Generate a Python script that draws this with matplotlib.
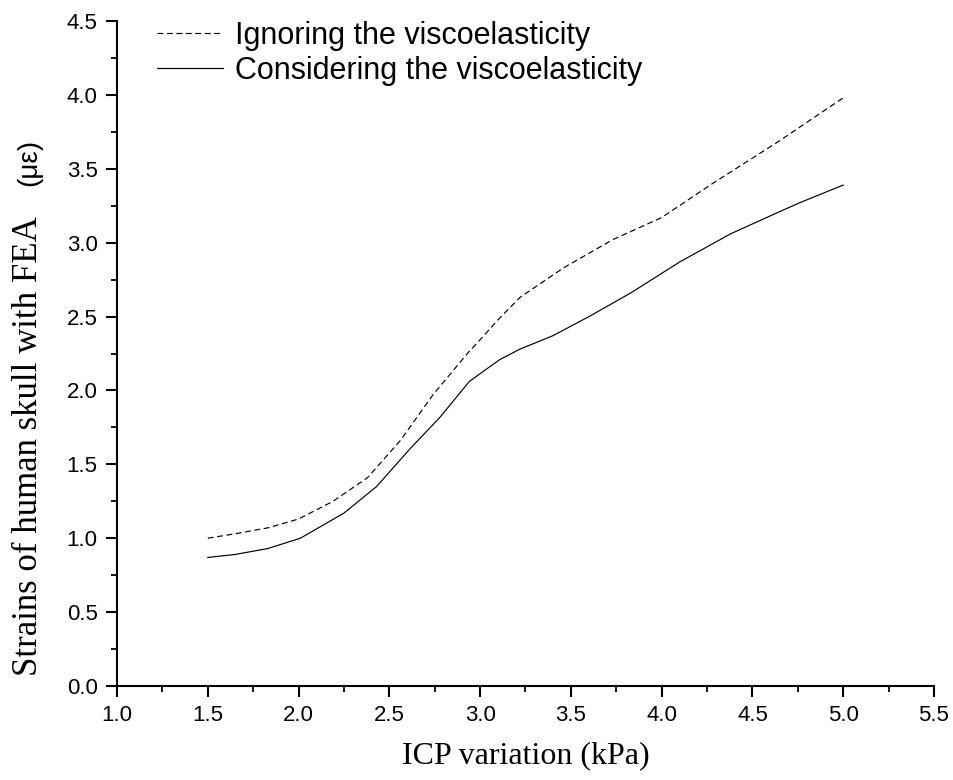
import matplotlib
matplotlib.use("Agg")
import matplotlib.pyplot as plt
from matplotlib.ticker import MultipleLocator, FormatStrFormatter

icp_ignoring = [1.5, 1.65, 1.83, 2.0, 2.19, 2.38, 2.56, 2.74, 2.93, 3.02, 3.1, 3.22, 3.46, 3.73, 4.0, 4.28, 4.65, 5.0]
ignoring = [1.00, 1.03, 1.07, 1.13, 1.25, 1.41, 1.66, 1.97, 2.25, 2.37, 2.48, 2.63, 2.83, 3.02, 3.17, 3.40, 3.69, 3.98]
icp_considering = [1.5, 1.65, 1.83, 2.01, 2.25, 2.43, 2.61, 2.78, 2.94, 3.03, 3.11, 3.22, 3.40, 3.60, 3.83, 4.10, 4.38, 4.65, 4.76, 5.0]
considering = [0.87, 0.89, 0.93, 1.00, 1.17, 1.35, 1.60, 1.82, 2.06, 2.14, 2.21, 2.28, 2.37, 2.50, 2.66, 2.87, 3.06, 3.21, 3.27, 3.39]
labels = ["Ignoring the viscoelasticity", "Considering the viscoelasticity"]

sans = ["Liberation Sans", "DejaVu Sans"]
serif = ["Liberation Serif", "DejaVu Serif"]

fig = plt.figure(figsize=(9.54, 7.8), dpi=100)
ax = fig.add_axes([117/954, 1-686/780, 817/954, 665/780])

ax.plot(icp_ignoring, ignoring, color="black", lw=0.85, linestyle=(0, (5, 3)), label=labels[0])
ax.plot(icp_considering, considering, color="black", lw=0.85, linestyle="-", label=labels[1])

ax.set_xlim(1.0, 5.5)
ax.set_ylim(0.0, 4.5)
ax.xaxis.set_major_locator(MultipleLocator(0.5))
ax.xaxis.set_minor_locator(MultipleLocator(0.25))
ax.yaxis.set_major_locator(MultipleLocator(0.5))
ax.yaxis.set_minor_locator(MultipleLocator(0.25))
ax.xaxis.set_major_formatter(FormatStrFormatter("%.1f"))
ax.yaxis.set_major_formatter(FormatStrFormatter("%.1f"))

for s in ["top", "right"]:
    ax.spines[s].set_visible(False)
for s in ["left", "bottom"]:
    ax.spines[s].set_linewidth(1.5)

ax.tick_params(which="major", direction="out", length=8, width=1.5, pad=6,
               labelsize=16, labelfontfamily="Liberation Sans")
ax.tick_params(which="minor", direction="out", length=4, width=1.3)

ax.set_xlabel("ICP variation (kPa)", fontfamily=serif, fontsize=23)
ax.xaxis.set_label_coords(0.5, -0.083)
ax.set_ylabel("Strains of human skull with FEA", fontfamily=serif, fontsize=25)
ax.yaxis.set_label_coords(-0.088, 0.36)
fig.text(29/954, 1-162/780, "(\u03bc\u03b5)", rotation=90, ha="center", va="center",
         fontfamily=sans, fontsize=20)

leg = ax.legend(loc="upper left", bbox_to_anchor=(0.049, 1.0), frameon=False,
                prop={"family": sans, "size": 22}, handlelength=2.16,
                handletextpad=0.39, labelspacing=0.15, borderpad=0, borderaxespad=0)

fig.savefig("out.png", dpi=100)
